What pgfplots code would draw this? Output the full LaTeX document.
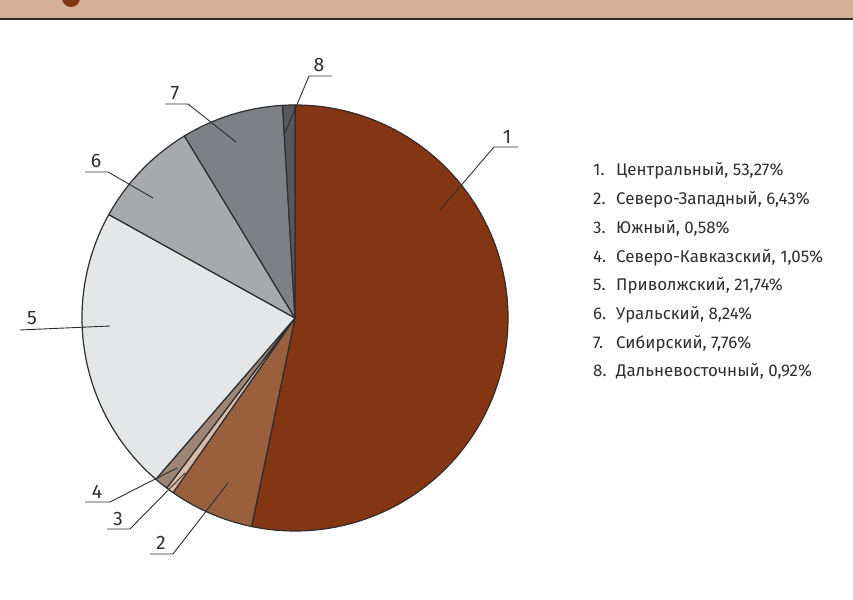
\documentclass[border=0pt]{standalone}
\usepackage{pgfplots}
\usepackage{pgfplotstable}
\pgfplotsset{compat=1.18}
\usepackage{fontspec}
\setmainfont{Fira Sans}
\definecolor{c1}{HTML}{833514}
\definecolor{c2}{HTML}{9A603D}
\definecolor{c3}{HTML}{D9BCA8}
\definecolor{c4}{HTML}{9C8576}
\definecolor{c5}{HTML}{E5E6E8}
\definecolor{c6}{HTML}{A8A9AD}
\definecolor{c7}{HTML}{7F8085}
\definecolor{c8}{HTML}{56585C}
\definecolor{hdr}{HTML}{D3B09A}
\definecolor{txt}{HTML}{2E2E2E}
\pgfplotstableread{
id pct color
1 53.27 c1
2 6.43 c2
3 0.58 c3
4 1.05 c4
5 21.74 c5
6 8.24 c6
7 7.76 c7
8 0.92 c8
}\piedata
\begin{document}
\begin{tikzpicture}
\begin{axis}[
  scale only axis, width=853pt, height=599pt,
  xmin=0, xmax=853, ymin=0, ymax=599,
  axis lines=none, ticks=none,
]
\path (rel axis cs:0,0) rectangle (rel axis cs:1,1);
% header bar
\fill[hdr] (axis cs:0,581) rectangle (axis cs:853,599);
\fill[c1] (axis cs:71,601) circle[radius=9pt];
\draw[txt, line width=2pt] (axis cs:0,580) -- (axis cs:853,580);
% pie
\pgfplotstablegetrowsof{\piedata}
\pgfmathtruncatemacro\N{\pgfplotsretval-1}
\def\cum{0}
\pgfplotsforeachungrouped \i in {0,...,\N}{%
  \pgfplotstablegetelem{\i}{pct}\of\piedata \let\p\pgfplotsretval
  \pgfplotstablegetelem{\i}{color}\of\piedata \let\c\pgfplotsretval
  \pgfmathsetmacro\a{90-3.6*\cum}%
  \pgfmathsetmacro\b{90-3.6*(\cum+\p)}%
  \edef\temp{\noexpand\filldraw[fill=\c, draw=txt, line width=1.2pt, line join=round] (axis cs:295,281) -- ([shift={(\a:213pt)}]axis cs:295,281) arc[start angle=\a, end angle=\b, radius=213pt] -- cycle;}%
  \temp
  \pgfmathsetmacro\cum{\cum+\p}%
}
% leader lines
\begin{scope}[txt, line width=0.9pt]
\draw (axis cs:440,389) -- (axis cs:494,452) -- (axis cs:518,452);
\draw (axis cs:228,116) -- (axis cs:173,45) -- (axis cs:150,45);
\draw (axis cs:185,126) -- (axis cs:130,70) -- (axis cs:107,70);
\draw (axis cs:177,131) -- (axis cs:110,97) -- (axis cs:85,97);
\draw (axis cs:20,269) -- (axis cs:110,273);
\draw (axis cs:153,401) -- (axis cs:108,427) -- (axis cs:85,427);
\draw (axis cs:236,457) -- (axis cs:188,495) -- (axis cs:165,495);
\draw (axis cs:285,466) -- (axis cs:309,523) -- (axis cs:332,523);
\end{scope}
\begin{scope}[every node/.style={txt, anchor=base, inner sep=0pt, font=\fontsize{19.5}{19.5}\selectfont}]
\node at (axis cs:507,455) {1};
\node at (axis cs:161,49) {2};
\node at (axis cs:118,73) {3};
\node at (axis cs:97,100) {4};
\node at (axis cs:32,274) {5};
\node at (axis cs:96,431) {6};
\node at (axis cs:175,499) {7};
\node at (axis cs:319,527) {8};
\end{scope}
% legend
\begin{scope}[every node/.style={txt, anchor=base west, inner sep=0pt, font=\fontsize{16.9}{16.9}\selectfont}]
\node at (axis cs:593,423) {1.}; \node at (axis cs:616,423) {Центральный, 53,27\%};
\node at (axis cs:593,394.3) {2.}; \node at (axis cs:616,394.3) {Северо-Западный, 6,43\%};
\node at (axis cs:593,365.6) {3.}; \node at (axis cs:616,365.6) {Южный, 0,58\%};
\node at (axis cs:593,336.9) {4.}; \node at (axis cs:616,336.9) {Северо-Кавказский, 1,05\%};
\node at (axis cs:593,308.2) {5.}; \node at (axis cs:616,308.2) {Приволжский, 21,74\%};
\node at (axis cs:593,279.5) {6.}; \node at (axis cs:616,279.5) {Уральский, 8,24\%};
\node at (axis cs:593,250.8) {7.}; \node at (axis cs:616,250.8) {Сибирский, 7,76\%};
\node at (axis cs:593,222.1) {8.}; \node at (axis cs:616,222.1) {Дальневосточный, 0,92\%};
\end{scope}
\end{axis}
\end{tikzpicture}
\end{document}
